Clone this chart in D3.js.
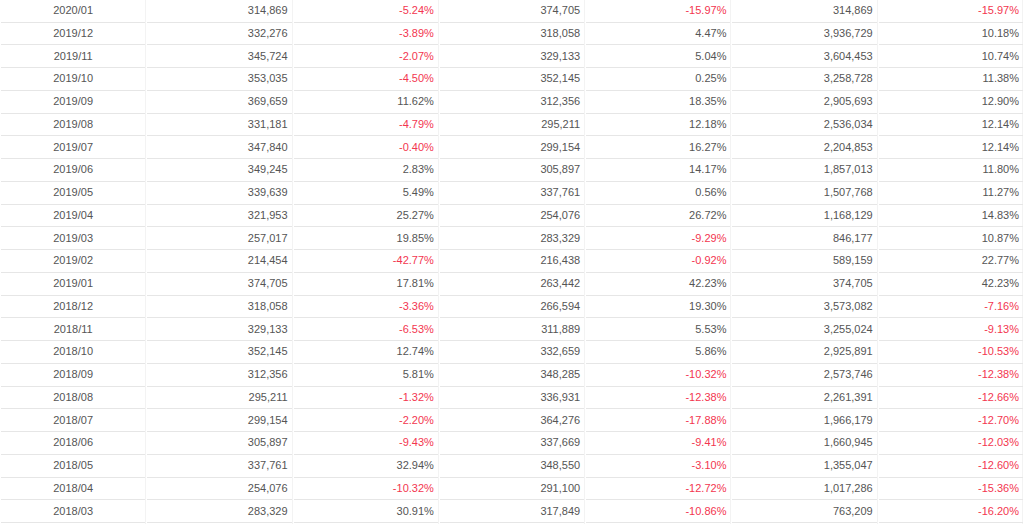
<!DOCTYPE html>
<html><head><meta charset="utf-8">
<script src="https://cdn.jsdelivr.net/npm/d3@7"></script>
<style>html,body{margin:0;padding:0;background:#fff;overflow:hidden}</style>
</head><body>
<script>
const months = ["2020/01","2019/12","2019/11","2019/10","2019/09","2019/08","2019/07","2019/06","2019/05","2019/04","2019/03","2019/02","2019/01","2018/12","2018/11","2018/10","2018/09","2018/08","2018/07","2018/06","2018/05","2018/04","2018/03"];
const sales = [314869,332276,345724,353035,369659,331181,347840,349245,339639,321953,257017,214454,374705,318058,329133,352145,312356,295211,299154,305897,337761,254076,283329];
const momPct = [-5.24,-3.89,-2.07,-4.50,11.62,-4.79,-0.40,2.83,5.49,25.27,19.85,-42.77,17.81,-3.36,-6.53,12.74,5.81,-1.32,-2.20,-9.43,32.94,-10.32,30.91];
const lastYearSales = [374705,318058,329133,352145,312356,295211,299154,305897,337761,254076,283329,216438,263442,266594,311889,332659,348285,336931,364276,337669,348550,291100,317849];
const yoyPct = [-15.97,4.47,5.04,0.25,18.35,12.18,16.27,14.17,0.56,26.72,-9.29,-0.92,42.23,19.30,5.53,5.86,-10.32,-12.38,-17.88,-9.41,-3.10,-12.72,-10.86];
const cumulative = [314869,3936729,3604453,3258728,2905693,2536034,2204853,1857013,1507768,1168129,846177,589159,374705,3573082,3255024,2925891,2573746,2261391,1966179,1660945,1355047,1017286,763209];
const cumYoyPct = [-15.97,10.18,10.74,11.38,12.90,12.14,12.14,11.80,11.27,14.83,10.87,22.77,42.23,-7.16,-9.13,-10.53,-12.38,-12.66,-12.70,-12.03,-12.60,-15.36,-16.20];

const columns = ["month","sales","mom","lastYear","yoy","cum","cumYoy"];
const W = 1024, H = 524;
const rowH = 22.75, tableTop = 21.5 - rowH;

const svg = d3.select("body").append("svg").attr("width", W).attr("height", H)
  .style("font-family","'Liberation Sans', Arial, sans-serif").style("font-size","11px");

const x = d3.scaleBand().domain(columns).range([0, W]);
const y = d3.scaleBand().domain(months).range([tableTop, tableTop + rowH * months.length]);

const fmtN = d3.format(",");
const fmtP = v => v.toFixed(2) + "%";
const grey = "#555", red = "#f3364f";

const rows = months.map((m,i) => [
  {c:"month", t:m, color:grey, align:"middle"},
  {c:"sales", t:fmtN(sales[i]), color:grey},
  {c:"mom", t:fmtP(momPct[i]), color: momPct[i] < 0 ? red : grey},
  {c:"lastYear", t:fmtN(lastYearSales[i]), color:grey},
  {c:"yoy", t:fmtP(yoyPct[i]), color: yoyPct[i] < 0 ? red : grey},
  {c:"cum", t:fmtN(cumulative[i]), color:grey},
  {c:"cumYoy", t:fmtP(cumYoyPct[i]), color: cumYoyPct[i] < 0 ? red : grey}
].map(d => Object.assign(d, {m})));

// vertical faint lines
svg.append("g").selectAll("line").data(columns.slice(1).concat(["__end"])).join("line")
  .attr("x1", d => d === "__end" ? W - 1.5 : Math.round(x(d)) - 0.5)
  .attr("x2", d => d === "__end" ? W - 1.5 : Math.round(x(d)) - 0.5)
  .attr("y1", 0).attr("y2", H)
  .attr("stroke", "#f3f3f3");

// horizontal lines per cell
const cells = rows.flat();
svg.append("g").selectAll("line").data(cells).join("line")
  .attr("x1", d => Math.round(x(d.c)) + 1)
  .attr("x2", d => Math.round(x(d.c) + x.bandwidth()) - 1)
  .attr("y1", d => Math.round(y(d.m) + rowH) + 0.5)
  .attr("y2", d => Math.round(y(d.m) + rowH) + 0.5)
  .attr("stroke", "#e6e6e6");

svg.append("g").selectAll("text").data(cells).join("text")
  .attr("x", d => d.align === "middle" ? x(d.c) + x.bandwidth()/2 : x(d.c) + x.bandwidth() - 5)
  .attr("y", d => y(d.m) + rowH/2 + 4)
  .attr("text-anchor", d => d.align === "middle" ? "middle" : "end")
  .attr("fill", d => d.color)
  .text(d => d.t);
</script>
</body></html>
